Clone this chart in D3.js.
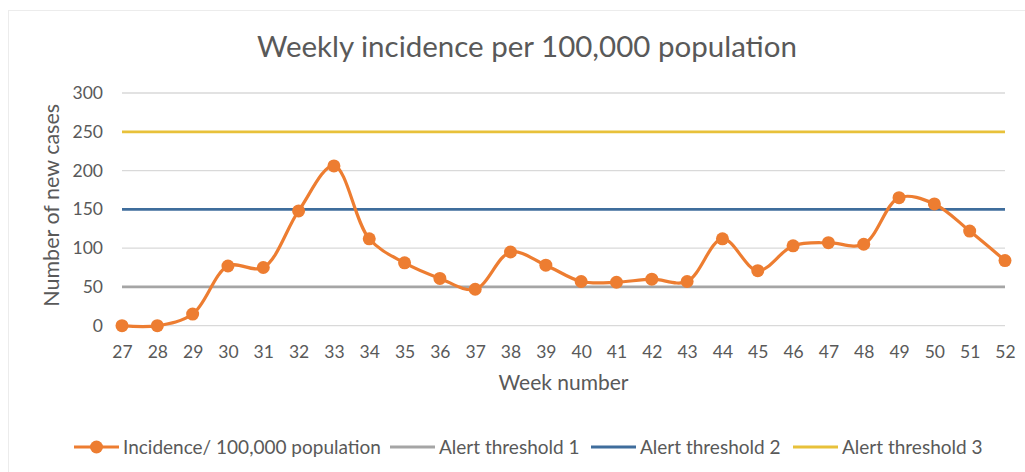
<!DOCTYPE html>
<html>
<head>
<meta charset="utf-8">
<script src="https://cdn.jsdelivr.net/npm/d3@7"></script>
<style>
  body { margin: 0; background: #fff; }
  text { font-family: Lato, "Open Sans", sans-serif; fill: #595959; }
</style>
</head>
<body>
<div id="chart"></div>
<script>
// data
var weeks = [27, 28, 29, 30, 31, 32, 33, 34, 35, 36, 37, 38, 39, 40, 41, 42, 43, 44, 45, 46, 47, 48, 49, 50, 51, 52];
var incidence = [0, 0, 15, 77, 75, 148, 206, 112, 81, 61, 47, 95, 78, 57, 56, 60, 57, 112, 71, 103, 107, 105, 165, 157, 122, 84];
var thresholdNames = ["Alert threshold 1", "Alert threshold 2", "Alert threshold 3"];
var thresholdValues = [50, 150, 250];
var yTicks = [0, 50, 100, 150, 200, 250, 300];

var W = 1025, H = 472;
var margin = { top: 93, right: 20, bottom: 147, left: 122 };
var width = 1005 - margin.left;
var height = 325.7 - margin.top;

var svg = d3.select('#chart').append('svg')
  .attr('width', W)
  .attr('height', H);

// chart frame
svg.append('rect')
  .attr('x', 8.5).attr('y', 10.5)
  .attr('width', W + 10).attr('height', H + 10)
  .attr('fill', 'none')
  .attr('stroke', '#ececec');

var g = svg.append('g')
  .attr('transform', 'translate(' + margin.left + ',' + margin.top + ')');

var x = d3.scalePoint().domain(weeks).range([0, width]);
var y = d3.scaleLinear().domain([0, 300]).range([height, 0]);

// gridlines
g.selectAll('.grid').data(yTicks).enter().append('line')
  .attr('x1', 0).attr('x2', width)
  .attr('y1', d => y(d)).attr('y2', d => y(d))
  .attr('stroke', '#d9d9d9').attr('stroke-width', 1.3);

// y axis labels
var yAxis = g.append('g').call(d3.axisLeft(y).tickValues(yTicks).tickSize(0).tickPadding(19));
yAxis.select('.domain').remove();
yAxis.selectAll('text').style('font-size', '17.5px').attr('fill', '#595959')
  .style('font-family', 'Lato, sans-serif');

// x axis labels
var xAxis = g.append('g').attr('transform', 'translate(0,' + height + ')')
  .call(d3.axisBottom(x).tickSize(0).tickPadding(20));
xAxis.select('.domain').remove();
xAxis.selectAll('text').style('font-size', '17.5px').attr('fill', '#595959')
  .style('font-family', 'Lato, sans-serif');

var colors = ['#a5a5a5', '#3f6d9c', '#e8c13a'];

// threshold lines
g.selectAll('.thr').data(thresholdValues).enter().append('line')
  .attr('x1', 0).attr('x2', width)
  .attr('y1', d => y(d)).attr('y2', d => y(d))
  .attr('stroke', (d, i) => colors[i]).attr('stroke-width', 2.8);

// incidence line
var line = d3.line()
  .x((d, i) => x(weeks[i]))
  .y(d => y(d))
  .curve(d3.curveCatmullRom.alpha(0.5));

g.append('path').datum(incidence)
  .attr('d', line)
  .attr('fill', 'none')
  .attr('stroke', '#ed7d31')
  .attr('stroke-width', 3.2);

g.selectAll('.dot').data(incidence).enter().append('circle')
  .attr('cx', (d, i) => x(weeks[i]))
  .attr('cy', d => y(d))
  .attr('r', 6.5)
  .attr('fill', '#ed7d31');

// title
svg.append('text')
  .attr('x', 527).attr('y', 57)
  .attr('text-anchor', 'middle')
  .style('font-size', '29.5px')
  .text('Weekly incidence per 100,000 population');

// axis titles
svg.append('text')
  .attr('x', margin.left + width / 2).attr('y', 390)
  .attr('text-anchor', 'middle')
  .style('font-size', '21px')
  .text('Week number');

svg.append('text')
  .attr('transform', 'translate(59,' + (margin.top + height / 2 - 4) + ') rotate(-90)')
  .attr('text-anchor', 'middle')
  .style('font-size', '21.5px')
  .text('Number of new cases');

// legend
var legendItems = [
  { name: 'Incidence/ 100,000 population', color: '#ed7d31', marker: true, x: 74 },
  { name: thresholdNames[0], color: colors[0], x: 390 },
  { name: thresholdNames[1], color: colors[1], x: 591 },
  { name: thresholdNames[2], color: colors[2], x: 793 }
];
var lg = svg.selectAll('.lg').data(legendItems).enter().append('g')
  .attr('transform', d => 'translate(' + d.x + ',447)');
lg.append('line').attr('x1', 0).attr('x2', 45)
  .attr('stroke', d => d.color).attr('stroke-width', 2.8);
lg.filter(d => d.marker).append('circle')
  .attr('cx', 22.5).attr('r', 6.5).attr('fill', d => d.color);
lg.append('text')
  .attr('x', 49).attr('y', 6.5)
  .style('font-size', '19px')
  .text(d => d.name);
</script>
</body>
</html>
